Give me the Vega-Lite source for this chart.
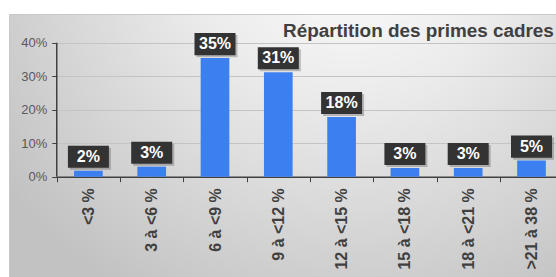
{
  "$schema": "https://vega.github.io/schema/vega-lite/v6.json",
  "width": 547,
  "height": 263,
  "autosize": {"type": "none"},
  "padding": {"left": 9, "top": 14, "right": 0, "bottom": 0},
  "background": "#ffffff",
  "config": {
    "font": "Liberation Sans",
    "view": {
      "fill": {"gradient": "radial", "x1": 0.62, "y1": 0.1, "r1": 0, "x2": 0.62, "y2": 0.1, "r2": 0.78,
        "stops": [{"offset": 0, "color": "#ffffff"}, {"offset": 0.4, "color": "#ebebeb"}, {"offset": 1, "color": "#c2c2c2"}]},
      "stroke": "#c8c8c8",
      "strokeWidth": 1
    }
  },
  "title": {
    "text": "Répartition des primes cadres",
    "anchor": "start",
    "frame": "group",
    "dx": 274,
    "offset": -42,
    "baseline": "alphabetic",
    "fontSize": 18.9,
    "fontWeight": "bold",
    "color": "#404040",
    "font": "Liberation Sans"
  },
  "data": {
    "values": [
      {"tranche": "<3 %", "value": 0.018},
      {"tranche": "3 à <6 %", "value": 0.03},
      {"tranche": "6 à <9 %", "value": 0.354},
      {"tranche": "9 à <12 %", "value": 0.312},
      {"tranche": "12 à <15 %", "value": 0.178},
      {"tranche": "15 à <18 %", "value": 0.026},
      {"tranche": "18 à <21 %", "value": 0.026},
      {"tranche": ">21 à 38 %", "value": 0.048}
    ]
  },
  "layer": [
    {
      "mark": {"type": "bar", "color": "#3c7ff0", "width": {"band": 0.453}},
      "encoding": {
        "x": {
          "field": "tranche", "type": "nominal",
          "scale": {"domain": ["<3 %", "3 à <6 %", "6 à <9 %", "9 à <12 %", "12 à <15 %", "15 à <18 %", "18 à <21 %", ">21 à 38 %"], "range": [47.75, 554.15], "paddingInner": 0, "paddingOuter": 0},
          "axis": {
            "title": null, "labelAngle": -90, "labelFontSize": 16, "labelFontWeight": "bold",
            "labelColor": "#404040", "labelPadding": 6, "tickBand": "extent", "tickSize": 5,
            "tickColor": "#404040", "domainColor": "#404040", "domainWidth": 1.5, "offset": -100.3,
            "grid": false, "labelFont": "Liberation Sans", "labelOverlap": false, "labelLimit": 300
          }
        },
        "y": {
          "field": "value", "type": "quantitative",
          "scale": {"domain": [-0.2994, 0.4857], "nice": false, "zero": false},
          "axis": {
            "title": null, "values": [0, 0.1, 0.2, 0.3, 0.4], "format": ".0%", "labelFontSize": 13,
            "labelColor": "#595959", "tickSize": 5, "tickColor": "#404040", "domain": false,
            "grid": true, "gridColor": "#c4c4c4", "offset": -47.75, "labelPadding": 5,
            "labelFont": "Liberation Sans"
          }
        }
      }
    },
    {
      "mark": {"type": "point", "shape": "M-1,-0.537L1,-0.537L1,0.537L-1,0.537Z", "size": 1681, "filled": true, "fill": "#000000", "opacity": 0.22, "strokeWidth": 0, "xOffset": 2, "yOffset": -12},
      "encoding": {
        "x": {"field": "tranche", "type": "nominal"},
        "y": {"field": "value", "type": "quantitative"}
      }
    },
    {
      "mark": {"type": "point", "shape": "M-1,-0.537L1,-0.537L1,0.537L-1,0.537Z", "size": 1681, "filled": true, "fill": "#333333", "opacity": 1, "strokeWidth": 0, "yOffset": -14},
      "encoding": {
        "x": {"field": "tranche", "type": "nominal"},
        "y": {"field": "value", "type": "quantitative"}
      }
    },
    {
      "mark": {"type": "text", "color": "#ffffff", "fontSize": 16, "fontWeight": "bold", "baseline": "middle", "align": "center", "yOffset": -14, "font": "Liberation Sans"},
      "encoding": {
        "x": {"field": "tranche", "type": "nominal"},
        "y": {"field": "value", "type": "quantitative"},
        "text": {"field": "value", "type": "quantitative", "format": ".0%"}
      }
    },
    {
      "data": {"values": [{"a": 1}]},
      "mark": {"type": "rule", "color": "#404040", "strokeWidth": 1.5},
      "encoding": {
        "x": {"datum": "<3 %", "bandPosition": 0},
        "y": {"datum": 0},
        "y2": {"datum": 0.4}
      }
    }
  ]
}
